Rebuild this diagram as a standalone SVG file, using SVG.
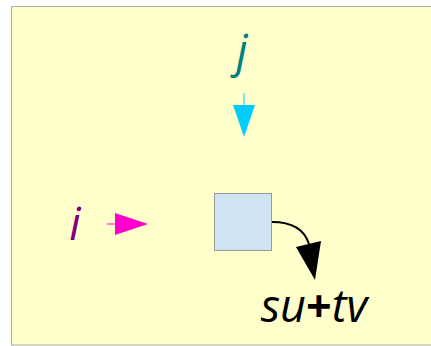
<svg xmlns="http://www.w3.org/2000/svg" width="431" height="346" viewBox="0 0 431 346">
<style>
.lbl{font-family:"Open Sans","Noto Sans",sans-serif;font-style:italic;font-size:45px}
</style>
<rect x="11.5" y="6.5" width="430" height="338.5" fill="#FFFFCC" stroke="#AAAAAA" stroke-width="1"/>
<g id="node-j">
<text class="lbl" x="242" y="67" fill="#007F7F" text-anchor="middle">j</text>
</g>
<g id="node-i">
<text class="lbl" x="75" y="240" fill="#800080" text-anchor="middle">i</text>
</g>
<g id="node-box">
<rect x="214.5" y="193.5" width="57" height="57" fill="#CFE5F3" stroke="#999999" stroke-width="1"/>
</g>
<g id="node-sum">
<text class="lbl" x="314" y="322" fill="#000" text-anchor="middle">su<tspan font-weight="bold" font-style="normal">+</tspan>tv</text>
</g>
<g id="connectors">
<line x1="244" y1="93" x2="244" y2="106" stroke="#00CCFF" stroke-width="1"/>
<polygon points="233,105 255,105 244,137" fill="#00CCFF"/>
<line x1="107" y1="224" x2="116" y2="224" stroke="#FF00CC" stroke-width="1"/>
<polygon points="115,213 148,224 115,235" fill="#FF00CC"/>
<path d="M272,222 C290,222 304,228 309,244" fill="none" stroke="#000" stroke-width="2"/>
<polygon points="296,247 321,241 315,280" fill="#000"/>
</g>
</svg>
